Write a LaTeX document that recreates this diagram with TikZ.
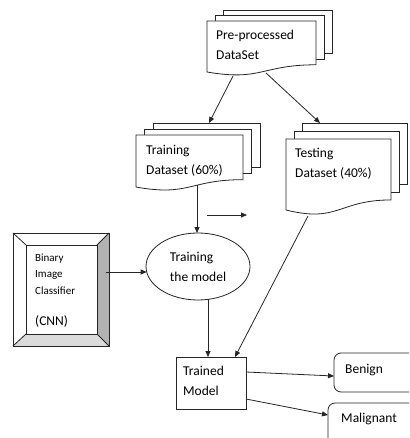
\documentclass[tikz,border=0pt]{standalone}
\usepackage{fontspec}
\setmainfont{Carlito}
\usetikzlibrary{arrows.meta,calc,shapes.geometric}
\tikzset{
  ln/.style={draw=black!85, line width=0.8pt},
  arr/.style={ln, -{Triangle[length=6pt,width=5pt]}},
  lbl/.style={anchor=base west, inner sep=0pt, align=left, font=\fontsize{13.5}{20}\selectfont},
  small/.style={anchor=base west, inner sep=0pt, align=left, font=\fontsize{11}{16.5}\selectfont},
  pg/.style={ln, fill=white},
}
% multi-document: x y w h dx dy
\newcommand\mdoc[6]{%
  \path[pg] ({#1+2*#5},{#2-2*#6}) rectangle ++(#3,{0.802*#4});
  \path[pg] ({#1+#5},{#2-#6}) rectangle ++(#3,{0.802*#4});
  \path[pg] (#1,#2) -- ({#1+#3},#2) -- ({#1+#3},{#2+0.802*#4})
    .. controls ({#1+#3/2},{#2+0.802*#4}) and ({#1+#3/2},{#2+1.1075*#4}) ..
    (#1,{#2+0.934*#4}) -- cycle;
}
\begin{document}
\begin{tikzpicture}[x=1pt,y=-1pt]
\useasboundingbox (0,0) rectangle (409,438);
\fill[white] (0,0) rectangle (409,438);
\clip (0,0) rectangle (409,438);

% documents
\mdoc{207}{21}{109}{54.6}{8}{5.5}
\mdoc{136}{135}{107}{55.7}{8.5}{6}
\mdoc{286}{139}{105}{76}{8}{8}
% base anchor of a multi-line node = baseline of its last line
\node[lbl] (pre) at (216,60) {Pre-processed\\DataSet};
\node[lbl] (train) at (146,175) {Training\\Dataset (60\%)};
\node[lbl] (test) at (295,178) {Testing\\Dataset (40\%)};

% bevel box
\fill[white] (13,233) rectangle (109,346);
\fill[gray!60] (109,233) -- (109,346) -- (97,334) -- (97,245) -- cycle;
\fill[gray!28] (13,346) -- (109,346) -- (97,334) -- (26,334) -- cycle;
\draw[ln] (13,233) rectangle (109,346);
\draw[ln] (26,245) rectangle (97,334);
\draw[ln] (13,233) -- (26,245) (109,233) -- (97,245) (13,346) -- (26,334) (109,346) -- (97,334);
\node[small] (bic) at (35,294) {Binary\\Image\\Classifier};
\node[lbl] (cnn) at (35,325) {(CNN)};

% ellipse
\node[ellipse, ln, minimum width=104pt, minimum height=67pt, inner sep=0pt,
      align=left, font=\fontsize{13.5}{20}\selectfont] (ell) at (198,266.5) {Training\\the model};

% trained model
\draw[ln] (176,357) rectangle (246,409);
\node[lbl] (trained) at (183,395) {Trained\\Model};

% outputs
\draw[ln, rounded corners=7pt] (334,353) rectangle (440,392);
\node[lbl] (benign) at (345,373) {Benign};
\draw[ln, rounded corners=7pt] (328,403) rectangle (440,460);
\node[lbl] (malig) at (341,422) {Malignant};

% connector end points
\coordinate (p1) at (233,76);
\coordinate (t1) at (209,123);
\coordinate (p2) at (266,73);
\coordinate (s1) at (320,123);
\coordinate (tr1) at (197,185.5);
\coordinate (e1) at (197,233);
\coordinate (fa) at (207,215);
\coordinate (fb) at (247,215);
\coordinate (b1) at (106,272);
\coordinate (e2) at (146.7,272);
\coordinate (e3) at (208,299.4);
\coordinate (m1) at (208,357);
\coordinate (s2) at (308,216);
\coordinate (m2) at (235,357);
\coordinate (m3) at (246,372);
\coordinate (bn) at (334,376);
\coordinate (m4) at (246,399);
\coordinate (ml) at (328,415);

\draw[arr] (p1) -- (t1);
\draw[arr] (p2) -- (s1);
\draw[arr] (tr1) -- (e1);
\draw[arr] (fa) -- (fb);
\draw[arr] (b1) -- (e2);
\draw[arr] (e3) -- (m1);
\draw[arr] (s2) -- (m2);
\draw[arr] (m3) -- (bn);
\draw[arr] (m4) -- (ml);
\end{tikzpicture}
\end{document}
